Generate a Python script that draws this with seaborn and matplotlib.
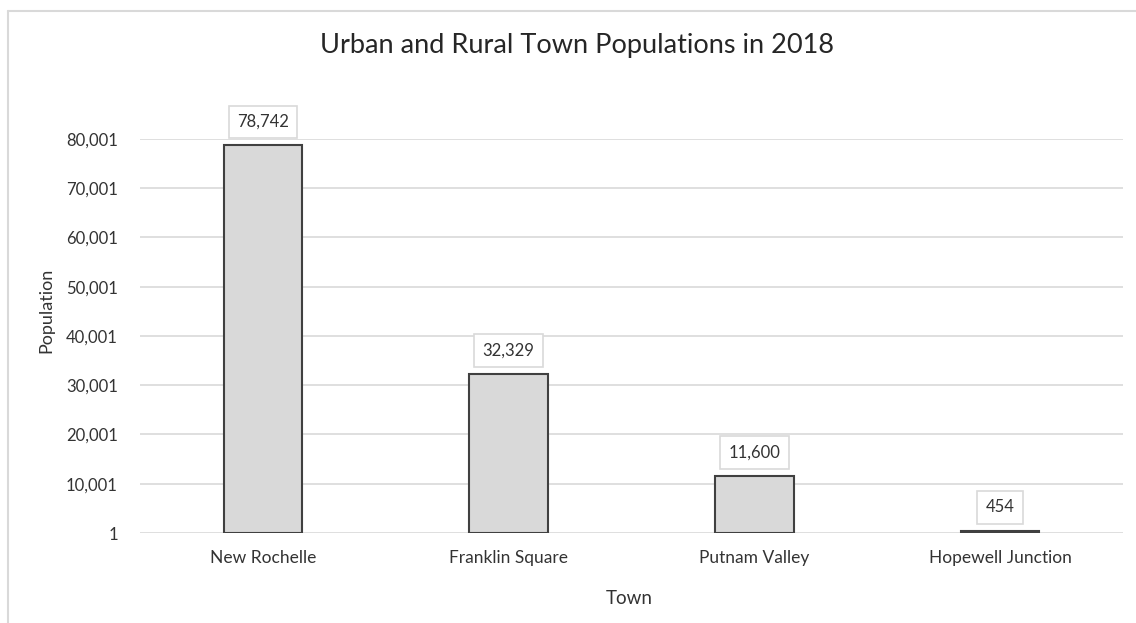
import matplotlib
matplotlib.use("Agg")
import matplotlib.pyplot as plt
from matplotlib.lines import Line2D
from matplotlib.ticker import FuncFormatter
import seaborn as sns
import pandas as pd

towns = ["New Rochelle", "Franklin Square", "Putnam Valley", "Hopewell Junction"]
populations = [78742, 32329, 11600, 454]
y_ticks = [1, 10001, 20001, 30001, 40001, 50001, 60001, 70001, 80001]

title = "Urban and Rural Town Populations in 2018"
x_label = "Town"
y_label = "Population"

sns.set_theme(style="white")
plt.rcParams["font.family"] = ["Lato", "DejaVu Sans"]

df = pd.DataFrame({"Town": towns, "Population": populations})

W, H = 1136, 623
fig = plt.figure(figsize=(W / 100, H / 100), dpi=100)
fig.patch.set_facecolor("white")

ax = fig.add_axes([140 / W, (H - 533) / H, 983 / W, 394 / H])
sns.barplot(data=df, x="Town", y="Population", ax=ax, width=0.32,
            color="#d9d9d9", saturation=1, edgecolor="#404040", linewidth=1.5,
            zorder=3)

ax.set_ylim(y_ticks[0], y_ticks[-1])
ax.set_xlim(-0.5, len(towns) - 0.5)
ax.set_yticks(y_ticks)
ax.yaxis.set_major_formatter(FuncFormatter(lambda v, p: f"{int(round(v)):,}"))
ax.grid(axis="y", color="#d9d9d9", linewidth=1.2, zorder=0)
ax.set_axisbelow(True)
for s in ax.spines.values():
    s.set_visible(False)
ax.tick_params(axis="y", length=0, pad=16, labelsize=12, labelcolor="#333333")
ax.tick_params(axis="x", length=0, pad=12, labelsize=12.5, labelcolor="#333333")

ax.set_xlabel(x_label, fontsize=13.5, color="#333333")
ax.set_ylabel(y_label, fontsize=13, color="#333333")
ax.xaxis.set_label_coords(0.498, -0.145)
ax.yaxis.set_label_coords(-0.087, 0.565)

for i, v in enumerate(populations):
    ax.annotate(f"{v:,}", xy=(i, v), xytext=(0, 11), textcoords="offset points",
                ha="center", va="bottom", fontsize=12, color="#333333",
                bbox=dict(boxstyle="square,pad=0.5", fc="white", ec="#d9d9d9", lw=1.2),
                zorder=5)

fig.text(577 / W, 1 - 45 / H, title, ha="center", va="center", fontsize=19.5, color="#262626")

# chart area border (left and top visible)
fig.add_artist(Line2D([8 / W, 8 / W], [0, 1 - 11 / H], color="#d9d9d9", lw=1.5,
                      transform=fig.transFigure))
fig.add_artist(Line2D([8 / W, 1], [1 - 11 / H, 1 - 11 / H], color="#d9d9d9", lw=1.5,
                      transform=fig.transFigure))

fig.savefig("out.png", dpi=100, facecolor="white")
